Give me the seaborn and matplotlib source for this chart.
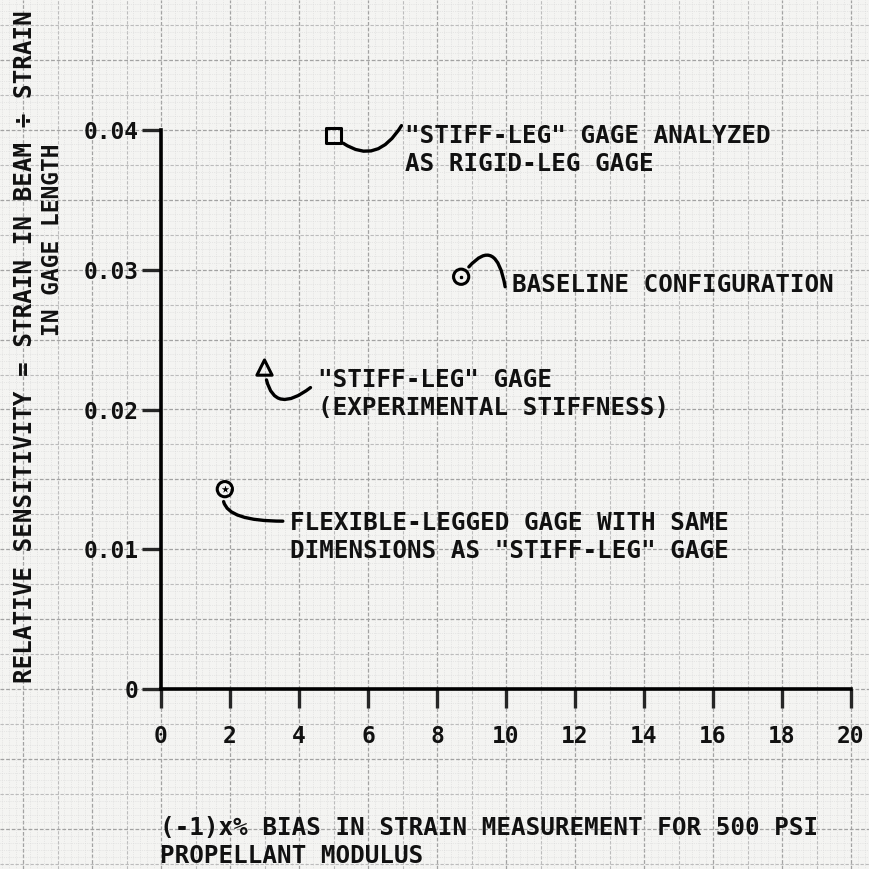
import numpy as np
import pandas as pd
import matplotlib
matplotlib.use("Agg")
import matplotlib.pyplot as plt
import seaborn as sns

# values
labels = ['rigid', 'baseline', 'stiff', 'flexible']
bias_pct = [5.0, 8.7, 3.0, 1.85]
sensitivity = [0.0396, 0.0295, 0.0230, 0.0143]
xticks = [0, 2, 4, 6, 8, 10, 12, 14, 16, 18, 20]
yticks = [0, 0.01, 0.02, 0.03, 0.04]
ytick_labels = ['0', '0.01', '0.02', '0.03', '0.04']

notes = {
    'rigid': '"STIFF-LEG" GAGE ANALYZED\nAS RIGID-LEG GAGE',
    'baseline': 'BASELINE CONFIGURATION',
    'stiff': '"STIFF-LEG" GAGE\n(EXPERIMENTAL STIFFNESS)',
    'flexible': 'FLEXIBLE-LEGGED GAGE WITH SAME\nDIMENSIONS AS "STIFF-LEG" GAGE',
}
xlabel = '(-1)x% BIAS IN STRAIN MEASUREMENT FOR 500 PSI\nPROPELLANT MODULUS'
ylabel1 = 'RELATIVE SENSITIVITY = STRAIN IN BEAM \u00f7 STRAIN'
ylabel2 = 'IN GAGE LENGTH'

df = pd.DataFrame({'case': labels, 'bias': bias_pct, 'sens': sensitivity})

sns.set_style("white")
plt.rcParams['font.family'] = ['DejaVu Sans Mono', 'DejaVu Sans']
plt.rcParams['font.weight'] = 'bold'

fig = plt.figure(figsize=(8.7, 8.69), dpi=100)
fig.patch.set_facecolor('#f4f4f2')
ax = fig.add_axes([0, 0, 1, 1])
ax.set_facecolor('#f4f4f2')

# pixel mapping: origin at (161, 689), 34.5 px per unit x, 13975 px per unit y
x0, y0 = 161, 689
sx, sy = 34.5, 13975
ax.set_xlim(-x0 / sx, (870 - x0) / sx)
ax.set_ylim(-(869 - y0) / sy, y0 / sy)

# graph paper
for gx in np.arange(-5, 21.01, 0.2):
    k = round(gx / 0.2)
    if k % 10 == 0:
        ax.axvline(gx, color='#a2a2a2', lw=0.9, ls=(0, (3, 1.5)), zorder=0)
    elif k % 5 == 0:
        ax.axvline(gx, color='#bcbcbc', lw=0.8, ls=(0, (3, 1.5)), zorder=0)
    else:
        ax.axvline(gx, color='#d9d9d9', lw=0.5, ls=':', zorder=0)
for gy in np.arange(-0.0125, 0.0501, 0.0005):
    k = round(gy / 0.0005)
    if k % 10 == 0:
        ax.axhline(gy, color='#a2a2a2', lw=0.9, ls=(0, (3, 1.5)), zorder=0)
    elif k % 5 == 0:
        ax.axhline(gy, color='#bcbcbc', lw=0.8, ls=(0, (3, 1.5)), zorder=0)
    else:
        ax.axhline(gy, color='#d9d9d9', lw=0.5, ls=':', zorder=0)

# axes drawn as spines through the origin
for side in ['top', 'right']:
    ax.spines[side].set_visible(False)
ax.spines['left'].set_position(('data', 0))
ax.spines['bottom'].set_position(('data', 0))
ax.spines['left'].set_bounds(0, 0.04)
ax.spines['bottom'].set_bounds(0, 20)
for side in ['left', 'bottom']:
    ax.spines[side].set_linewidth(2.6)
    ax.spines[side].set_color('black')
    ax.spines[side].set_zorder(3)

ax.set_xticks(xticks)
ax.set_xticklabels([str(t) for t in xticks])
ax.set_yticks(yticks)
ax.set_yticklabels(ytick_labels)
ax.tick_params(axis='x', direction='out', length=14, width=2.4, pad=12,
               labelsize=16.5, bottom=True, labelcolor='#111111')
ax.tick_params(axis='y', direction='out', length=14, width=2.4, pad=2,
               labelsize=16.5, left=True, labelcolor='#111111')

# points
sns.scatterplot(data=df, x='bias', y='sens', style='case',
                markers={'rigid': 's', 'baseline': 'o', 'stiff': '^', 'flexible': 'o'},
                s=120, legend=False, ax=ax, zorder=4)
pts = ax.collections[-1]
pts.set_facecolor('none')
pts.set_edgecolor('black')
pts.set_linewidth(2.2)
sns.scatterplot(data=df[df.case == 'baseline'], x='bias', y='sens', marker='.',
                color='black', s=40, legend=False, ax=ax, zorder=5)
sns.scatterplot(data=df[df.case == 'flexible'], x='bias', y='sens', marker='*',
                color='black', s=60, legend=False, ax=ax, zorder=5)
ax.set_xlabel('')
ax.set_ylabel('')

# notes with hand-drawn style connectors
fs = 17.5
note_pos = {
    'rigid': ((68, 10), (405, 150)),
    'baseline': ((44, -10), (512, 285)),
    'stiff': ((46, -20), (318, 394)),
    'flexible': ((58, -32), (290, 537)),
}
conn = {
    'rigid': 'arc3,rad=-0.6',
    'baseline': 'arc3,rad=1.2',
    'stiff': 'arc3,rad=-0.9',
    'flexible': 'angle3,angleA=0,angleB=70',
}
for case, bx, by in zip(labels, bias_pct, sensitivity):
    off, (px, py) = note_pos[case]
    ax.annotate('', xy=(bx, by), xytext=off, textcoords='offset pixels',
                arrowprops=dict(arrowstyle='-', lw=2.4, color='black',
                                connectionstyle=conn[case],
                                shrinkA=0, shrinkB=9))
    ax.text((px - x0) / sx, (y0 - py) / sy, notes[case], fontsize=fs,
            ha='left', va='center', linespacing=1.2, color='#111111')

ax.text((160 - x0) / sx, (y0 - 842) / sy, xlabel, fontsize=fs,
        ha='left', va='center', linespacing=1.2, color='#111111')
ax.text((25 - x0) / sx, (y0 - 347) / sy, ylabel1, fontsize=fs, rotation=90,
        ha='center', va='center', color='#111111')
ax.text((53 - x0) / sx, (y0 - 240) / sy, ylabel2, fontsize=16.5, rotation=90,
        ha='center', va='center', color='#111111')

fig.savefig('out.png', dpi=100, facecolor=fig.get_facecolor())
